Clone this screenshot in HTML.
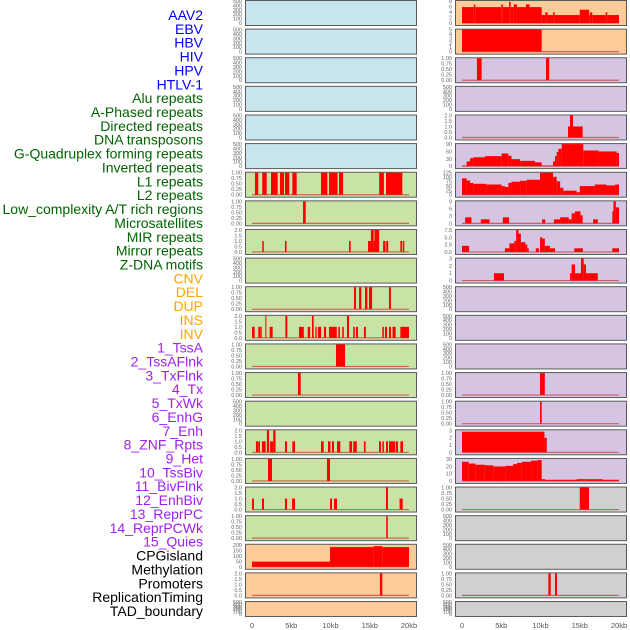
<!DOCTYPE html>
<html><head><meta charset="utf-8"><style>
html,body{margin:0;padding:0;background:#fff;}
svg{display:block;font-family:"Liberation Sans",sans-serif;}
</style></head><body>
<svg id="chart" width="630" height="630" viewBox="0 0 630 630"></svg>
<script>
// ---- data (kb start, kb end, value) ----
const trackNames = ["AAV2","EBV","HBV","HIV","HPV","HTLV-1","Alu repeats","A-Phased repeats","Directed repeats","DNA transposons","G-Quadruplex forming repeats","Inverted repeats","L1 repeats","L2 repeats","Low_complexity A/T rich regions","Microsatellites","MIR repeats","Mirror repeats","Z-DNA motifs","CNV","DEL","DUP","INS","INV","1_TssA","2_TssAFlnk","3_TxFlnk","4_Tx","5_TxWk","6_EnhG","7_Enh","8_ZNF_Rpts","9_Het","10_TssBiv","11_BivFlnk","12_EnhBiv","13_ReprPC","14_ReprPCWk","15_Quies","CPGisland","Methylation","Promoters","ReplicationTiming","TAD_boundary"];
const labelColors = ["#0000ff","#0000ff","#0000ff","#0000ff","#0000ff","#0000ff","#006400","#006400","#006400","#006400","#006400","#006400","#006400","#006400","#006400","#006400","#006400","#006400","#006400","#ffa500","#ffa500","#ffa500","#ffa500","#ffa500","#a020f0","#a020f0","#a020f0","#a020f0","#a020f0","#a020f0","#a020f0","#a020f0","#a020f0","#a020f0","#a020f0","#a020f0","#a020f0","#a020f0","#a020f0","#000","#000","#000","#000","#000"];
const xTickLabels = ["0","5kb","10kb","15kb","20kb"];
const xTickValues = [0,5,10,15,20];

const emptyTicks = ["0","100","200","300","400","500"];
const ticks01 = ["0.00","0.25","0.50","0.75","1.00"];
const ticks02 = ["0.0","0.5","1.0","1.5","2.0"];

// left column
const segL1 = [[0.38,0.8,1],[1.31,1.87,1],[2.42,3.27,1],[3.57,4.08,1],[4.2,4.75,1],[5.14,5.69,1],[8.79,9.6,1],[9.81,10.9,1],[11.08,11.6,1],[16.2,16.8,1],[17.07,19.15,1]];
const segL2 = [[6.5,6.84,1]];
const segLow = [[1.31,1.5,1],[4.2,4.4,1],[12.36,12.57,1],[14.78,15.15,1],[15.15,15.5,2],[15.5,15.6,1],[15.6,16.2,2],[16.7,17.0,1],[17.1,17.35,1],[18.9,19.1,1],[19.2,19.4,1]];
const segMir = [[13.0,13.25,1],[13.64,13.93,1],[14.4,14.7,1],[14.9,15.3,1],[17.45,17.7,1]];
const segMirror = [[0,0.34,1],[0.8,1.02,1],[1.05,1.24,1],[1.7,1.83,2],[2.25,2.63,1],[4.25,4.5,2],[5.99,6.6,1],[7.1,7.4,1],[7.64,7.86,2],[8.07,8.24,1],[8.4,8.8,1],[9.17,9.43,1],[9.81,10.8,1],[11.0,11.2,1],[11.5,11.7,1],[12.1,12.36,2],[12.9,13.1,1],[13.25,13.5,1],[14.26,14.5,1],[16.6,16.8,1],[16.94,17.2,1],[17.45,17.7,1],[17.9,18.3,1],[18.9,20.0,1]];
const segZdna = [[10.7,11.85,1]];
const segCnv = [[5.86,6.2,1]];
const segDup = [[0.5,0.77,1],[0.8,1.02,1],[1.27,1.74,1],[1.9,2.17,2],[2.3,2.68,1],[2.7,3.0,2],[4.2,4.46,1],[5.14,5.48,1],[8.79,9.13,1],[9.68,10.0,1],[10.19,10.45,1],[10.83,11.25,1],[12.4,12.75,1],[12.9,13.35,1],[14.26,14.47,1],[16.18,16.43,1],[16.6,16.8,1],[17.07,17.32,1],[17.45,18.26,1],[18.35,18.6,1],[18.9,19.24,1]];
const segR16 = [[2.04,2.55,1],[9.55,9.94,1]];
const segR17 = [[0,0.25,1],[1.27,1.53,1],[4.2,4.46,1],[5.1,5.48,1],[9.94,10.2,1],[10.45,10.83,1],[17.07,17.32,2],[18.8,19.2,1]];
const segR18 = [[17.1,17.3,1]];
const segCpg = [[0,9.94,55],[9.94,15.5,210],[15.5,16.6,220],[16.6,20.0,210]];
const segProm = [[16.3,16.6,2]];

// right column
const segAav = [[0,1.5,6],[1.5,1.7,7],[1.7,5.0,6],[5.0,5.2,7],[5.2,6.0,6],[6.0,6.2,8],[6.2,6.6,6],[6.6,7.0,7],[7.0,8.15,6],[8.15,8.6,7],[8.6,10.15,6],[10.15,10.6,3],[10.6,10.9,4],[10.9,11.6,3],[11.6,11.8,4],[11.8,15.0,3],[15.0,16.2,5],[16.2,16.3,3],[16.3,16.6,4],[16.6,18.3,3],[18.3,18.5,4],[18.5,20.0,3]];
const segEbv = [[0,10.15,5]];
const segHiv = [[1.9,2.5,1],[10.7,11.1,1]];
const segHtlv = [[13.5,13.76,1],[13.76,14.14,2],[14.14,15.37,1]];
const segGq = [[0,0.59,3],[0.59,1.02,25],[1.02,1.44,42],[1.44,2.93,47],[2.93,5.05,53],[5.05,5.9,67],[5.9,6.3,55],[6.3,7.4,37],[7.4,9.3,28],[9.3,10.15,20],[10.15,11.6,3],[11.6,11.85,25],[11.85,12.06,53],[12.06,12.27,75],[12.27,12.7,92],[12.7,15.45,117],[15.45,17.4,83],[17.4,19.7,78],[19.7,20.0,70]];
const segInv = [[0,0.59,93],[0.59,1.02,81],[1.02,1.44,67],[1.44,3.1,62],[3.1,5.05,58],[5.05,5.47,49],[5.47,5.9,44],[5.9,6.3,67],[6.3,7.4,74],[7.4,8.24,79],[8.24,9.94,85],[9.94,11.6,125],[11.6,12.06,102],[12.06,12.5,76],[12.5,12.9,40],[12.9,14.6,23],[14.6,15.0,14],[15.0,16.9,49],[16.9,18.4,58],[18.4,19.5,53],[19.5,20.0,58]];
const segTssaf = [[0.4,1.2,3],[2.4,3.5,2],[5.2,6.0,3],[10.2,10.6,2],[11.7,12.5,2],[12.5,13.6,3],[13.6,13.97,2],[13.97,14.4,5],[14.4,15.1,6],[15.1,15.37,4],[16.7,17.3,2],[19.15,19.3,6],[19.3,19.6,11],[19.6,20.0,8]];
const segTxf = [[0,0.9,2.5],[5.47,6.04,1.5],[6.04,6.67,3.5],[6.67,6.9,4.5],[6.9,7.2,9],[7.2,7.5,7.5],[7.5,8.07,4],[8.07,8.32,3],[8.32,8.5,1.5],[9.4,9.8,1.5],[9.94,10.2,6],[10.2,10.55,5.5],[10.55,11.2,2.5],[11.2,11.85,1.5],[14.3,15.4,1.5],[19.15,20.0,1.5]];
const segTx = [[4.07,5.35,1],[13.76,13.97,1],[13.97,14.4,2.2],[14.4,15.16,1],[15.16,15.5,3],[15.5,15.8,2.2],[15.8,17.3,1]];
const segZnf = [[9.94,10.55,1]];
const segHet = [[9.94,10.15,1]];
const segTssb = [[0,10.5,3],[10.5,10.8,2.1]];
const segBiv = [[0,0.85,33],[0.85,1.7,30],[1.7,2.9,28],[2.9,4.0,27],[4.0,5.5,25],[5.5,6.5,26],[6.5,7.0,29],[7.0,7.6,31],[7.6,8.8,33],[8.8,9.6,35],[9.6,10.15,36],[10.15,10.6,3],[10.6,14.6,2],[14.6,17.9,3],[17.9,20.0,2]];
const segEnhb = [[15.0,16.18,1]];
const segRt = [[11.0,11.3,1],[11.85,12.1,1]];

const panelsLeft = [
 ["AAV2-left",0,[],500,emptyTicks,"#c8e4ec"],["EBV-left",1,[],500,emptyTicks,"#c8e4ec"],["HBV",2,[],500,emptyTicks,"#c8e4ec"],
 ["HIV-left",3,[],500,emptyTicks,"#c8e4ec"],["HPV-left",4,[],500,emptyTicks,"#c8e4ec"],["HTLV-left",5,[],500,emptyTicks,"#c8e4ec"],
 ["repeat-6",6,segL1,1,ticks01,"#c9e2a6"],["repeat-7",7,segL2,1,ticks01,"#c9e2a6"],["repeat-8",8,segLow,2,ticks02,"#c9e2a6"],
 ["repeat-9",9,[],500,emptyTicks,"#c9e2a6"],["repeat-10",10,segMir,1,ticks01,"#c9e2a6"],["repeat-11",11,segMirror,2,ticks02,"#c9e2a6"],
 ["repeat-12",12,segZdna,1,ticks01,"#c9e2a6"],["repeat-13",13,segCnv,1,ticks01,"#c9e2a6"],["repeat-14",14,[],500,emptyTicks,"#c9e2a6"],
 ["repeat-15",15,segDup,2,ticks02,"#c9e2a6"],["repeat-16",16,segR16,1,ticks01,"#c9e2a6"],["repeat-17",17,segR17,2,ticks02,"#c9e2a6"],
 ["repeat-18",18,segR18,1,ticks01,"#c9e2a6"],["sv-19",19,segCpg,235,["0","50","100","150","200"],"#ffcc99"],
 ["sv-20",20,segProm,2,ticks02,"#ffcc99"],["sv-21",21,[],500,emptyTicks,"#ffcc99"]
];
const panelsRight = [
 ["r-0",0,segAav,8.3,["0","2","4","6","8"],"#ffcc99"],["r-1",1,segEbv,5,["0","1","2","3","4","5"],"#ffcc99"],
 ["r-2",2,segHiv,1,ticks01,"#d5c5e2"],["r-3",3,[],500,emptyTicks,"#d5c5e2"],["r-4",4,segHtlv,2,ticks02,"#d5c5e2"],
 ["r-5",5,segGq,117,["0","30","60","90"],"#d5c5e2"],["r-6",6,segInv,125,["0","25","50","75","100","125"],"#d5c5e2"],
 ["r-7",7,segTssaf,11,["0","3","6","9"],"#d5c5e2"],["r-8",8,segTxf,9,["0.0","2.5","5.0","7.5"],"#d5c5e2"],
 ["r-9",9,segTx,3,["0","1","2","3"],"#d5c5e2"],["r-10",10,[],500,emptyTicks,"#d5c5e2"],["r-11",11,[],500,emptyTicks,"#d5c5e2"],
 ["r-12",12,[],500,emptyTicks,"#d5c5e2"],["r-13",13,segZnf,1,ticks01,"#d5c5e2"],["r-14",14,segHet,1,ticks01,"#d5c5e2"],
 ["r-15",15,segTssb,3.2,["0","1","2","3"],"#d5c5e2"],["r-16",16,segBiv,38,["0","10","20","30"],"#d5c5e2"],
 ["r-17",17,segEnhb,1,ticks01,"#d0d0d0"],["r-18",18,[],500,emptyTicks,"#d0d0d0"],["r-19",19,[],500,emptyTicks,"#d0d0d0"],
 ["r-20",20,segRt,1,ticks01,"#d0d0d0"],["r-21",21,[],500,emptyTicks,"#d0d0d0"]
];

const NS="http://www.w3.org/2000/svg";
const svg=document.getElementById('chart');
function mk(tag,attrs,parent){const e=document.createElementNS(NS,tag);for(const k in attrs)e.setAttribute(k,attrs[k]);(parent||svg).appendChild(e);return e;}

const ROW=28.62, PH=25;
const colX=[245,455];
function xScale(col,kb){return colX[col]+7+kb*7.85;}
function rowTop(r){return r*ROW;}
function rowH(r){return r===21?15:PH;}
function yScale(r,v,ymax){const t=rowTop(r)+1,b=rowTop(r)+rowH(r)-2;return b-(v/ymax)*(b-t);}

function drawPanel(col,p){
  const [name,r,segs,ymax,ticks,bg]=p;
  const top=rowTop(r),h=rowH(r);
  const g=mk('g',{});
  
  
  const bgr=mk('rect',{x:colX[col]+0.5,y:top+0.5,width:171,height:h,fill:bg,stroke:'#5a5a5a','stroke-width':1},g);
  
  
  const b=top+h-2,t=top+1;
  ticks.forEach((lab,i)=>{
    const y=b-(i/(ticks.length-1))*(b-t);
    const tx=mk('text',{x:colX[col]-3,y:y+2,'font-size':5.5,fill:'#666','text-anchor':'end'},g);
    tx.textContent=lab;
    
    
  });
  if(segs.length){
    const bl=mk('line',{x1:xScale(col,0),x2:xScale(col,20),y1:b,y2:b,stroke:'#c33',opacity:0.7,'stroke-width':1.2},g);
    
    
  }
  segs.forEach(s=>{
    const x1=xScale(col,s[0]),x2=xScale(col,s[1]);
    const y=yScale(r,Math.min(s[2],ymax),ymax);
    const rc=mk('rect',{x:x1,y:y,width:Math.max(1,x2-x1),height:b-y,fill:'#ff0000'},g);
    
    
  });
}
panelsLeft.forEach(p=>drawPanel(0,p));
panelsRight.forEach(p=>drawPanel(1,p));

trackNames.forEach((n,i)=>{
  const tx=mk('text',{x:203,y:15+i*13.86+5,'font-size':14,fill:labelColors[i],'text-anchor':'end'});
  tx.textContent=n;
  
  
});
[0,1].forEach(col=>{
  xTickValues.forEach((v,i)=>{
    const tx=mk('text',{x:xScale(col,v),y:628,'font-size':7.5,fill:'#555','text-anchor':'middle'});
    tx.textContent=xTickLabels[i];
    
    
  });
});
</script>
</body></html>
